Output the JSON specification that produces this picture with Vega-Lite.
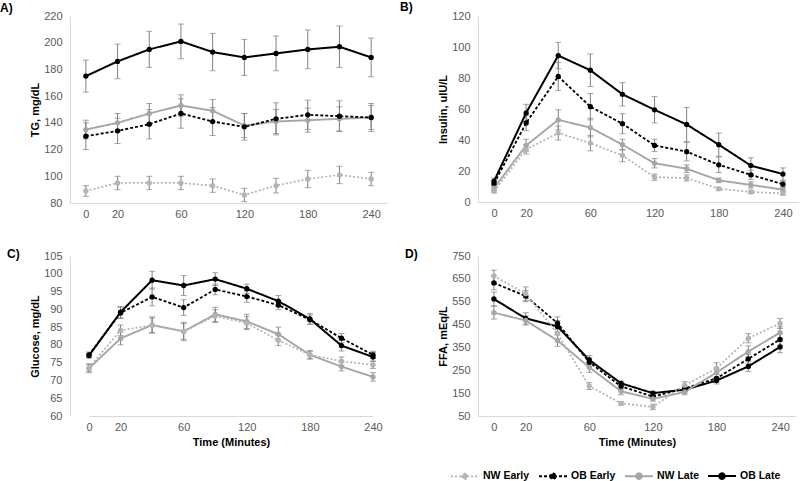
{
  "$schema": "https://vega.github.io/schema/vega-lite/v6.json",
  "padding": {"left": 0, "top": 1, "right": 0, "bottom": 0},
  "bounds": "flush",
  "align": "each",
  "columns": 2,
  "spacing": {"row": 53, "column": 91},
  "config": {
    "font": "Liberation Sans",
    "view": {"stroke": null},
    "axis": {"labelFontSize": 11, "labelColor": "#595959", "titleFontSize": 11, "titleFontWeight": "bold", "titleColor": "#000000", "domainColor": "#d9d9d9", "domainWidth": 1, "ticks": false, "grid": false, "labelOverlap": false},
    "axisY": {"labelOverlap": false},
    "axisQuantitative": {"labelOverlap": false},
    "title": {"fontSize": 12, "fontWeight": "bold", "anchor": "start", "frame": "group", "baseline": "middle", "color": "#000000"},
    "legend": {"labelFontSize": 10.5, "labelFontWeight": "bold", "labelColor": "#000000"}
  },
  "data": {"values": [
    {"p":"A","s":"OB Late","t":0,"v":175,"e":12},{"p":"A","s":"OB Late","t":20,"v":186,"e":13},{"p":"A","s":"OB Late","t":40,"v":195,"e":13.5},{"p":"A","s":"OB Late","t":60,"v":201,"e":13},{"p":"A","s":"OB Late","t":90,"v":193,"e":14},{"p":"A","s":"OB Late","t":120,"v":189,"e":13.5},{"p":"A","s":"OB Late","t":150,"v":192,"e":13},{"p":"A","s":"OB Late","t":180,"v":195,"e":14.5},{"p":"A","s":"OB Late","t":210,"v":197,"e":15.5},{"p":"A","s":"OB Late","t":240,"v":189,"e":14.5},
    {"p":"A","s":"NW Late","t":0,"v":135,"e":7},{"p":"A","s":"NW Late","t":20,"v":140,"e":7},{"p":"A","s":"NW Late","t":40,"v":147,"e":7.5},{"p":"A","s":"NW Late","t":60,"v":153,"e":8},{"p":"A","s":"NW Late","t":90,"v":149,"e":8.5},{"p":"A","s":"NW Late","t":120,"v":138,"e":9},{"p":"A","s":"NW Late","t":150,"v":141,"e":9},{"p":"A","s":"NW Late","t":180,"v":142,"e":9},{"p":"A","s":"NW Late","t":210,"v":143,"e":9},{"p":"A","s":"NW Late","t":240,"v":144,"e":9},
    {"p":"A","s":"OB Early","t":0,"v":130,"e":10},{"p":"A","s":"OB Early","t":20,"v":134,"e":9.5},{"p":"A","s":"OB Early","t":40,"v":139,"e":11},{"p":"A","s":"OB Early","t":60,"v":147,"e":11},{"p":"A","s":"OB Early","t":90,"v":141,"e":10.5},{"p":"A","s":"OB Early","t":120,"v":137,"e":10},{"p":"A","s":"OB Early","t":150,"v":143,"e":12},{"p":"A","s":"OB Early","t":180,"v":146,"e":11},{"p":"A","s":"OB Early","t":210,"v":145,"e":11.5},{"p":"A","s":"OB Early","t":240,"v":144,"e":10.5},
    {"p":"A","s":"NW Early","t":0,"v":89,"e":4},{"p":"A","s":"NW Early","t":20,"v":95,"e":5},{"p":"A","s":"NW Early","t":40,"v":95,"e":5},{"p":"A","s":"NW Early","t":60,"v":95,"e":5},{"p":"A","s":"NW Early","t":90,"v":93,"e":5},{"p":"A","s":"NW Early","t":120,"v":86,"e":5},{"p":"A","s":"NW Early","t":150,"v":93,"e":5.5},{"p":"A","s":"NW Early","t":180,"v":98,"e":6.5},{"p":"A","s":"NW Early","t":210,"v":101,"e":6.5},{"p":"A","s":"NW Early","t":240,"v":98,"e":5},
    {"p":"B","s":"OB Late","t":0,"v":13.5,"e":2},{"p":"B","s":"OB Late","t":20,"v":57.5,"e":5.5},{"p":"B","s":"OB Late","t":40,"v":94.5,"e":8.5},{"p":"B","s":"OB Late","t":60,"v":85,"e":10.5},{"p":"B","s":"OB Late","t":90,"v":69.5,"e":7.5},{"p":"B","s":"OB Late","t":120,"v":59.5,"e":8.5},{"p":"B","s":"OB Late","t":150,"v":50,"e":11},{"p":"B","s":"OB Late","t":180,"v":37,"e":7.5},{"p":"B","s":"OB Late","t":210,"v":23.5,"e":5},{"p":"B","s":"OB Late","t":240,"v":18,"e":4},
    {"p":"B","s":"OB Early","t":0,"v":12,"e":1.5},{"p":"B","s":"OB Early","t":20,"v":51,"e":5},{"p":"B","s":"OB Early","t":40,"v":81,"e":9},{"p":"B","s":"OB Early","t":60,"v":61.5,"e":8.5},{"p":"B","s":"OB Early","t":90,"v":50.5,"e":6.5},{"p":"B","s":"OB Early","t":120,"v":36.5,"e":4},{"p":"B","s":"OB Early","t":150,"v":32.5,"e":6},{"p":"B","s":"OB Early","t":180,"v":24,"e":5},{"p":"B","s":"OB Early","t":210,"v":17.5,"e":3},{"p":"B","s":"OB Early","t":240,"v":11.5,"e":2},
    {"p":"B","s":"NW Late","t":0,"v":9,"e":1.5},{"p":"B","s":"NW Late","t":20,"v":36.5,"e":4},{"p":"B","s":"NW Late","t":40,"v":53,"e":6.5},{"p":"B","s":"NW Late","t":60,"v":48,"e":6},{"p":"B","s":"NW Late","t":90,"v":37,"e":3.5},{"p":"B","s":"NW Late","t":120,"v":25,"e":3},{"p":"B","s":"NW Late","t":150,"v":21.5,"e":2.5},{"p":"B","s":"NW Late","t":180,"v":14,"e":1.5},{"p":"B","s":"NW Late","t":210,"v":11,"e":2},{"p":"B","s":"NW Late","t":240,"v":8,"e":1.5},
    {"p":"B","s":"NW Early","t":0,"v":7,"e":1},{"p":"B","s":"NW Early","t":20,"v":34,"e":3},{"p":"B","s":"NW Early","t":40,"v":44.5,"e":4.5},{"p":"B","s":"NW Early","t":60,"v":38,"e":5},{"p":"B","s":"NW Early","t":90,"v":30,"e":4},{"p":"B","s":"NW Early","t":120,"v":16,"e":2},{"p":"B","s":"NW Early","t":150,"v":15.5,"e":2},{"p":"B","s":"NW Early","t":180,"v":8.5,"e":1},{"p":"B","s":"NW Early","t":210,"v":6.5,"e":1},{"p":"B","s":"NW Early","t":240,"v":5.5,"e":1},
    {"p":"C","s":"OB Late","t":0,"v":77,"e":0.7},{"p":"C","s":"OB Late","t":20,"v":89.2,"e":1.6},{"p":"C","s":"OB Late","t":40,"v":98.2,"e":2.5},{"p":"C","s":"OB Late","t":60,"v":96.7,"e":2.8},{"p":"C","s":"OB Late","t":90,"v":98.5,"e":1.8},{"p":"C","s":"OB Late","t":120,"v":95.8,"e":1.3},{"p":"C","s":"OB Late","t":150,"v":92.3,"e":1.6},{"p":"C","s":"OB Late","t":180,"v":87.3,"e":1.5},{"p":"C","s":"OB Late","t":210,"v":79.8,"e":1.5},{"p":"C","s":"OB Late","t":240,"v":76.6,"e":1.2},
    {"p":"C","s":"OB Early","t":0,"v":77.2,"e":0.8},{"p":"C","s":"OB Early","t":20,"v":89,"e":1.6},{"p":"C","s":"OB Early","t":40,"v":93.5,"e":2.5},{"p":"C","s":"OB Early","t":60,"v":90.5,"e":2.2},{"p":"C","s":"OB Early","t":90,"v":95.6,"e":1.5},{"p":"C","s":"OB Early","t":120,"v":93.6,"e":1.6},{"p":"C","s":"OB Early","t":150,"v":91.2,"e":1.3},{"p":"C","s":"OB Early","t":180,"v":87.1,"e":1.3},{"p":"C","s":"OB Early","t":210,"v":81.9,"e":1.3},{"p":"C","s":"OB Early","t":240,"v":77.2,"e":1},
    {"p":"C","s":"NW Late","t":0,"v":73.4,"e":1.2},{"p":"C","s":"NW Late","t":20,"v":81.8,"e":1.8},{"p":"C","s":"NW Late","t":40,"v":85.6,"e":2.3},{"p":"C","s":"NW Late","t":60,"v":83.8,"e":2.6},{"p":"C","s":"NW Late","t":90,"v":88.6,"e":2},{"p":"C","s":"NW Late","t":120,"v":86.6,"e":2},{"p":"C","s":"NW Late","t":150,"v":83,"e":2},{"p":"C","s":"NW Late","t":180,"v":77.2,"e":1.2},{"p":"C","s":"NW Late","t":210,"v":73.9,"e":1.2},{"p":"C","s":"NW Late","t":240,"v":71,"e":1.2},
    {"p":"C","s":"NW Early","t":0,"v":73.6,"e":1},{"p":"C","s":"NW Early","t":20,"v":84.1,"e":1.5},{"p":"C","s":"NW Early","t":40,"v":85.5,"e":2},{"p":"C","s":"NW Early","t":60,"v":83.8,"e":2.2},{"p":"C","s":"NW Early","t":90,"v":88.1,"e":1.8},{"p":"C","s":"NW Early","t":120,"v":86.1,"e":1.8},{"p":"C","s":"NW Early","t":150,"v":81.3,"e":1.5},{"p":"C","s":"NW Early","t":180,"v":77.2,"e":1},{"p":"C","s":"NW Early","t":210,"v":75.4,"e":1.2},{"p":"C","s":"NW Early","t":240,"v":74.4,"e":1},
    {"p":"D","s":"OB Late","t":0,"v":562,"e":30},{"p":"D","s":"OB Late","t":20,"v":477,"e":25},{"p":"D","s":"OB Late","t":40,"v":442,"e":25},{"p":"D","s":"OB Late","t":60,"v":295,"e":20},{"p":"D","s":"OB Late","t":90,"v":193,"e":10},{"p":"D","s":"OB Late","t":120,"v":150,"e":8},{"p":"D","s":"OB Late","t":150,"v":165,"e":10},{"p":"D","s":"OB Late","t":180,"v":205,"e":15},{"p":"D","s":"OB Late","t":210,"v":267,"e":22},{"p":"D","s":"OB Late","t":240,"v":352,"e":25},
    {"p":"D","s":"OB Early","t":0,"v":632,"e":30},{"p":"D","s":"OB Early","t":20,"v":575,"e":25},{"p":"D","s":"OB Early","t":40,"v":456,"e":28},{"p":"D","s":"OB Early","t":60,"v":285,"e":20},{"p":"D","s":"OB Early","t":90,"v":180,"e":12},{"p":"D","s":"OB Early","t":120,"v":135,"e":10},{"p":"D","s":"OB Early","t":150,"v":170,"e":12},{"p":"D","s":"OB Early","t":180,"v":215,"e":18},{"p":"D","s":"OB Early","t":210,"v":300,"e":20},{"p":"D","s":"OB Early","t":240,"v":385,"e":25},
    {"p":"D","s":"NW Late","t":0,"v":502,"e":28},{"p":"D","s":"NW Late","t":20,"v":468,"e":20},{"p":"D","s":"NW Late","t":40,"v":380,"e":25},{"p":"D","s":"NW Late","t":60,"v":263,"e":22},{"p":"D","s":"NW Late","t":90,"v":158,"e":15},{"p":"D","s":"NW Late","t":120,"v":125,"e":10},{"p":"D","s":"NW Late","t":150,"v":155,"e":12},{"p":"D","s":"NW Late","t":180,"v":240,"e":20},{"p":"D","s":"NW Late","t":210,"v":332,"e":25},{"p":"D","s":"NW Late","t":240,"v":415,"e":25},
    {"p":"D","s":"NW Early","t":0,"v":663,"e":25},{"p":"D","s":"NW Early","t":20,"v":585,"e":30},{"p":"D","s":"NW Early","t":40,"v":410,"e":25},{"p":"D","s":"NW Early","t":60,"v":181,"e":15},{"p":"D","s":"NW Early","t":90,"v":105,"e":8},{"p":"D","s":"NW Early","t":120,"v":90,"e":12},{"p":"D","s":"NW Early","t":150,"v":185,"e":15},{"p":"D","s":"NW Early","t":180,"v":258,"e":25},{"p":"D","s":"NW Early","t":210,"v":390,"e":20},{"p":"D","s":"NW Early","t":240,"v":455,"e":22}
  ]},
  "concat": [
    {
      "width": 317, "height": 187,
      "title": {"text": "A)", "dx": -70, "offset": -5},
      "transform": [{"filter": "datum.p == 'A'"}],
      "encoding": {
        "x": {"field": "t", "type": "ordinal", "scale": {"type": "point", "padding": 0.5}, "axis": {"title": null, "labelAngle": 0, "labelPadding": 5, "labelExpr": "indexof([40,90,150,210], datum.value) >= 0 ? '' : datum.label"}},
        "y": {"field": "v", "type": "quantitative", "title": "TG, mg/dL", "scale": {"domain": [80, 220]}, "axis": {"values": [80,100,120,140,160,180,200,220], "tickCount": 8, "labelOverlap": false, "labelPadding": 8, "titlePadding": 3}}
      },
      "layer": [
        {"mark": {"type": "errorbar", "ticks": {"size": 6, "thickness": 1}, "color": "#808080", "thickness": 1}, "encoding": {"yError": {"field": "e"}, "detail": {"field": "s"}}},
        {"mark": {"type": "line"}, "encoding": {
          "color": {"field": "s", "type": "nominal", "scale": {"domain": ["NW Early", "OB Early", "NW Late", "OB Late"], "range": ["#b4b4b4", "#000000", "#a6a6a6", "#000000"]}, "legend": {"title": null, "orient": "none", "legendX": 380, "legendY": 445, "direction": "horizontal", "columns": 4, "columnPadding": 5, "labelOffset": 3, "symbolSize": 784, "symbolStrokeWidth": 2, "symbolType": "M-1,0H1M-0.2,0a0.2,0.2 0 1,0 0.4,0a0.2,0.2 0 1,0 -0.4,0"}},
          "strokeDash": {"field": "s", "type": "nominal", "scale": {"domain": ["NW Early", "OB Early", "NW Late", "OB Late"], "range": [[2, 2], [3, 2], [1, 0], [1, 0]]}},
          "strokeWidth": {"field": "s", "type": "nominal", "scale": {"domain": ["NW Early", "OB Early", "NW Late", "OB Late"], "range": [1.75, 2, 2.5, 2.5]}}}},
        {"mark": {"type": "point", "filled": true, "size": 28, "opacity": 1}, "encoding": {"color": {"field": "s", "type": "nominal"}}}
      ]
    },
    {
      "width": 321, "height": 186,
      "title": {"text": "B)", "dx": -78, "offset": -4},
      "transform": [{"filter": "datum.p == 'B'"}],
      "encoding": {
        "x": {"field": "t", "type": "ordinal", "scale": {"type": "point", "padding": 0.5}, "axis": {"title": null, "labelAngle": 0, "labelPadding": 5, "labelExpr": "indexof([40,90,150,210], datum.value) >= 0 ? '' : datum.label"}},
        "y": {"field": "v", "type": "quantitative", "title": "Insulin, uIU/L", "scale": {"domain": [0, 120]}, "axis": {"values": [0,20,40,60,80,100,120], "tickCount": 7, "labelOverlap": false, "labelPadding": 8, "titlePadding": 3}}
      },
      "layer": [
        {"mark": {"type": "errorbar", "ticks": {"size": 6, "thickness": 1}, "color": "#808080", "thickness": 1}, "encoding": {"yError": {"field": "e"}, "detail": {"field": "s"}}},
        {"mark": {"type": "line"}, "encoding": {"color": {"field": "s", "type": "nominal"}, "strokeDash": {"field": "s", "type": "nominal"}, "strokeWidth": {"field": "s", "type": "nominal"}}},
        {"mark": {"type": "point", "filled": true, "size": 28, "opacity": 1}, "encoding": {"color": {"field": "s", "type": "nominal"}}}
      ]
    },
    {
      "width": 313, "height": 160,
      "title": {"text": "C)", "dx": -63, "offset": -11},
      "transform": [{"filter": "datum.p == 'C'"}],
      "encoding": {
        "x": {"field": "t", "type": "ordinal", "scale": {"type": "point", "range": [19, 303], "padding": 0}, "axis": {"title": "Time (Minutes)", "titlePadding": 4, "labelAngle": 0, "labelPadding": 5, "labelExpr": "indexof([40,90,150,210], datum.value) >= 0 ? '' : datum.label"}},
        "y": {"field": "v", "type": "quantitative", "title": "Glucose, mg/dL", "scale": {"domain": [60, 105]}, "axis": {"values": [60,65,70,75,80,85,90,95,100,105], "tickCount": 10, "labelOverlap": false, "labelPadding": 8, "titlePadding": 3}}
      },
      "layer": [
        {"mark": {"type": "errorbar", "ticks": {"size": 6, "thickness": 1}, "color": "#808080", "thickness": 1}, "encoding": {"yError": {"field": "e"}, "detail": {"field": "s"}}},
        {"mark": {"type": "line"}, "encoding": {"color": {"field": "s", "type": "nominal"}, "strokeDash": {"field": "s", "type": "nominal"}, "strokeWidth": {"field": "s", "type": "nominal"}}},
        {"mark": {"type": "point", "filled": true, "size": 28, "opacity": 1}, "encoding": {"color": {"field": "s", "type": "nominal"}}}
      ]
    },
    {
      "width": 318, "height": 160,
      "title": {"text": "D)", "dx": -73, "offset": -11},
      "transform": [{"filter": "datum.p == 'D'"}],
      "encoding": {
        "x": {"field": "t", "type": "ordinal", "scale": {"type": "point", "padding": 0.5}, "axis": {"title": "Time (Minutes)", "titlePadding": 4, "labelAngle": 0, "labelPadding": 5, "labelExpr": "indexof([40,90,150,210], datum.value) >= 0 ? '' : datum.label"}},
        "y": {"field": "v", "type": "quantitative", "title": "FFA, mEq/L", "scale": {"domain": [50, 750]}, "axis": {"values": [50,150,250,350,450,550,650,750], "tickCount": 8, "labelOverlap": false, "labelPadding": 8, "titlePadding": 3}}
      },
      "layer": [
        {"mark": {"type": "errorbar", "ticks": {"size": 6, "thickness": 1}, "color": "#808080", "thickness": 1}, "encoding": {"yError": {"field": "e"}, "detail": {"field": "s"}}},
        {"mark": {"type": "line"}, "encoding": {"color": {"field": "s", "type": "nominal"}, "strokeDash": {"field": "s", "type": "nominal"}, "strokeWidth": {"field": "s", "type": "nominal"}}},
        {"mark": {"type": "point", "filled": true, "size": 28, "opacity": 1}, "encoding": {"color": {"field": "s", "type": "nominal"}}}
      ]
    }
  ],
  "resolve": {"scale": {"y": "independent", "x": "independent"}}
}
